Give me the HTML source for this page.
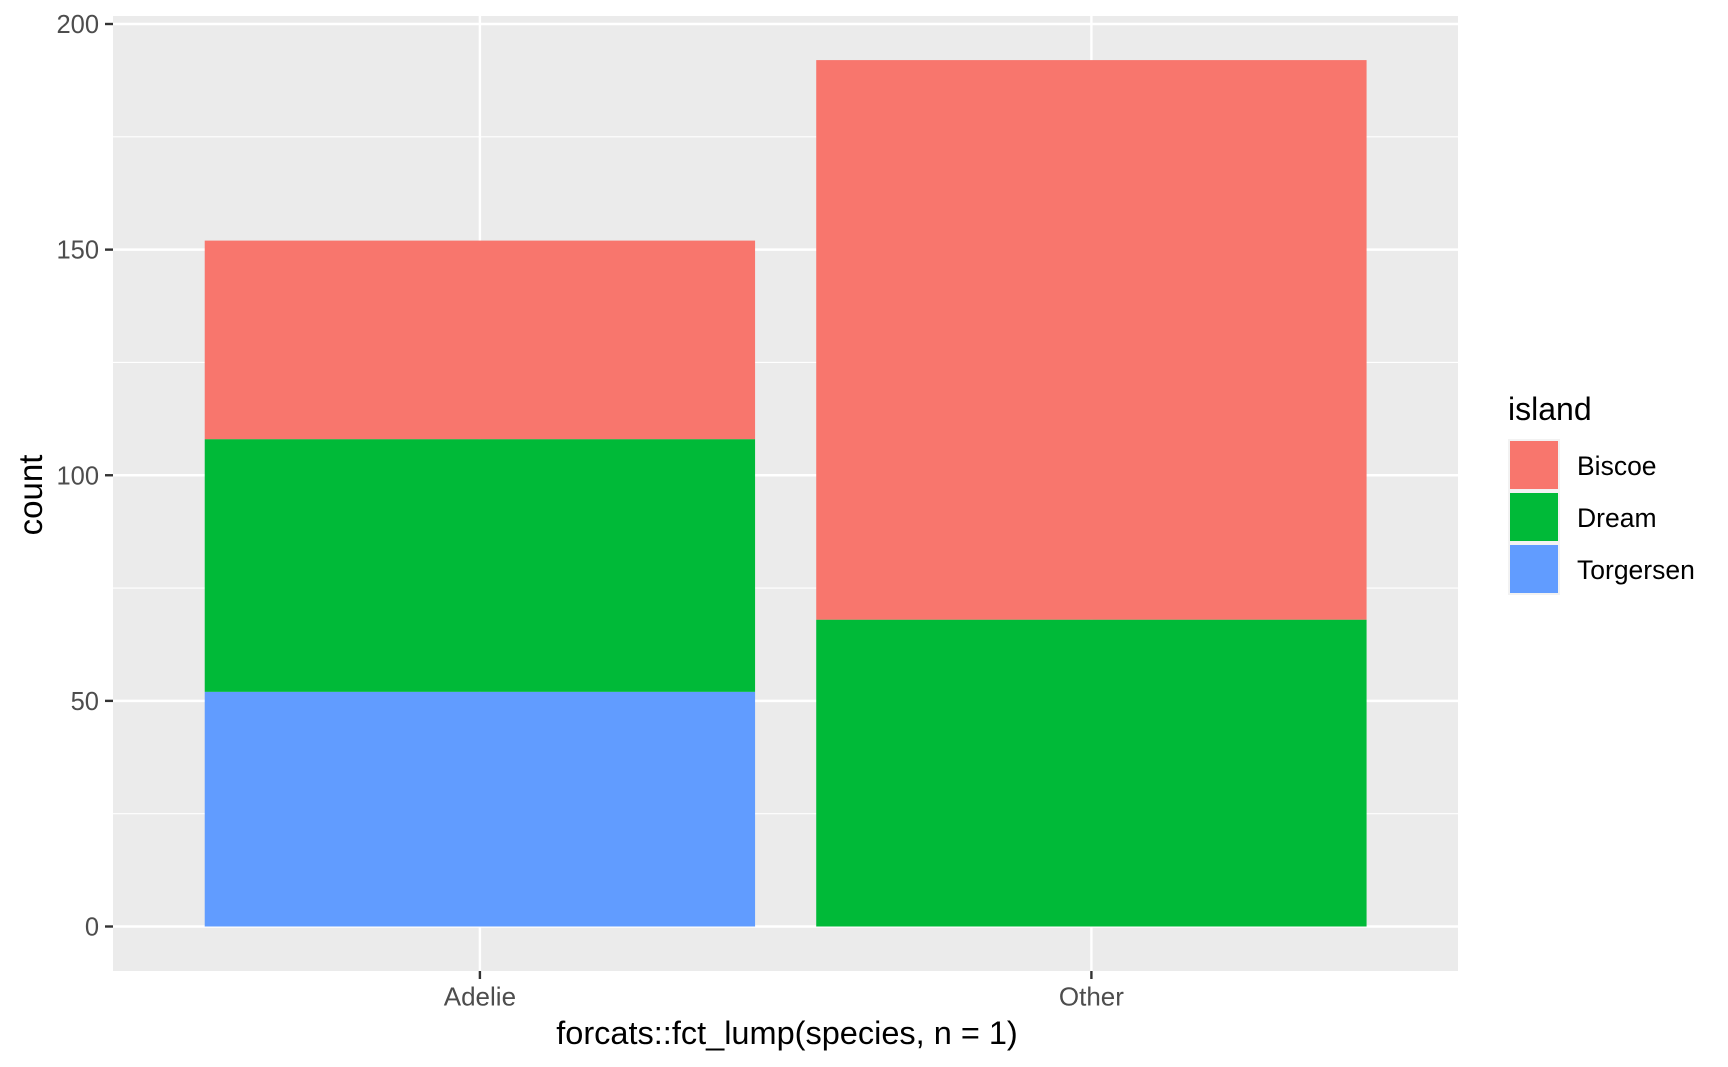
<!DOCTYPE html>
<html><head><meta charset="utf-8"><style>
body{margin:0;background:#fff;}
svg{display:block;font-family:"Liberation Sans",Arial,sans-serif;}
</style></head><body>
<svg id="chart" width="1728" height="1067">
<rect x="113" y="16" width="1345" height="955" fill="#EBEBEB"/>
<g id="grid"></g><g id="bars"></g><g id="axes"></g>
<text x="787" y="1044" font-size="32.5" text-anchor="middle" fill="#000">forcats::fct_lump(species, n = 1)</text>
<text transform="translate(42,495) rotate(-90)" font-size="33" text-anchor="middle" fill="#000">count</text>
<g>
<text x="1508" y="420" font-size="32" fill="#000">island</text>
<g id="legend"></g>
</g>
</svg>
<script>
const categories = ["Adelie", "Other"];
const islands = ["Biscoe", "Dream", "Torgersen"];
const colors = ["#F8766D", "#00BA38", "#619CFF"];
const biscoe = [44, 124];
const dream = [56, 68];
const torgersen = [52, 0];
const yTicks = [0, 50, 100, 150, 200];
const yMinor = [25, 75, 125, 175];

const NS = "http://www.w3.org/2000/svg";
const y0px = 926.5, pxPerUnit = 4.5125;
const yScale = v => y0px - v * pxPerUnit;
const bandStep = 611.5, xLeft = 113, xRight = 1458, yBottom = 971;
const xScale = i => xLeft + (i + 0.6) * bandStep;
const barW = 0.9 * bandStep;
function mk(tag, attrs, parent){const e=document.createElementNS(NS,tag);for(const k in attrs)e.setAttribute(k,attrs[k]);parent.appendChild(e);return e;}
const grid=document.getElementById('grid'), bars=document.getElementById('bars'), axes=document.getElementById('axes'), legend=document.getElementById('legend');

yMinor.forEach(v=>{const l=mk('line',{x1:xLeft,x2:xRight,y1:yScale(v),y2:yScale(v),stroke:'#fff','stroke-width':1.2},grid);

});
yTicks.forEach(v=>{const l=mk('line',{x1:xLeft,x2:xRight,y1:yScale(v),y2:yScale(v),stroke:'#fff','stroke-width':2.4},grid);


const t=mk('line',{x1:105,x2:113,y1:yScale(v),y2:yScale(v),stroke:'#333','stroke-width':2.4},axes);


const tx=mk('text',{x:99,y:yScale(v)+9,'font-size':25.5,'text-anchor':'end',fill:'#4D4D4D'},axes);tx.textContent=v;

});
categories.forEach((c,i)=>{const x=xScale(i);
const l=mk('line',{x1:x,x2:x,y1:16,y2:yBottom,stroke:'#fff','stroke-width':2.4},grid);


const t=mk('line',{x1:x,x2:x,y1:yBottom,y2:yBottom+8,stroke:'#333','stroke-width':2.4},axes);


const tx=mk('text',{x:x,y:1005.5,'font-size':26,'text-anchor':'middle',fill:'#4D4D4D'},axes);tx.textContent=c;


const segs=[[torgersen[i],2],[dream[i],1],[biscoe[i],0]];let base=0;
segs.forEach(([v,k])=>{if(v<=0)return;const r=mk('rect',{x:x-barW/2,width:barW,y:yScale(base+v),height:v*pxPerUnit,fill:colors[k]},bars);

base+=v;});
});
islands.forEach((n,k)=>{const y=439+k*52;
const bg=mk('rect',{x:1508,y:y,width:52,height:52,fill:'#F2F2F2'},legend);


const r=mk('rect',{x:1510,y:y+2,width:48,height:48,fill:colors[k]},legend);


const t=mk('text',{x:1577,y:y+36,'font-size':26.5,fill:'#000'},legend);t.textContent=n;

});
</script>
</body></html>
